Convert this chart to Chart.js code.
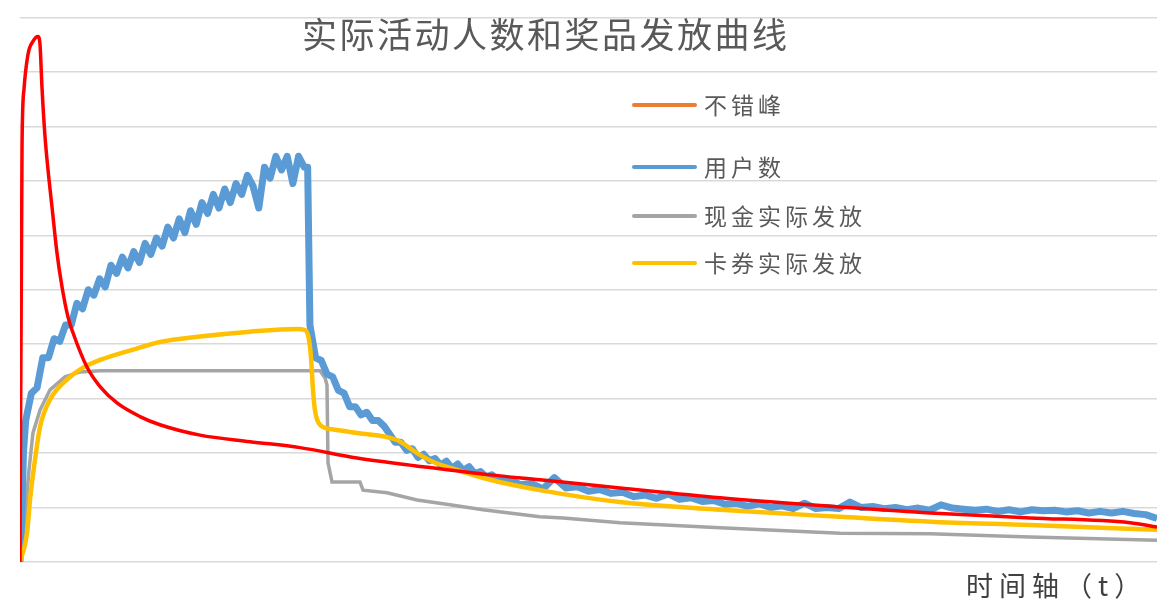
<!DOCTYPE html>
<html>
<head>
<meta charset="utf-8">
<script src="https://cdn.jsdelivr.net/npm/chart.js@4.4.1/dist/chart.umd.min.js"></script>
<style>
  body { margin: 0; background: #fff; }
</style>
</head>
<body>
<canvas id="prizeChart" width="1157" height="603"></canvas>
<script>
const chartTitle = '实际活动人数和奖品发放曲线';
const axisTitle = '时间轴（t）';
const seriesNames = ['不错峰', '用户数', '现金实际发放', '卡券实际发放'];

// 不错峰
const redT = [0, 0.18, 0.35, 0.7, 1.14, 1.58, 1.76, 1.93, 2.2, 2.46, 2.81, 3.25, 3.69, 4.22, 4.66, 5.89, 7.04, 8.53, 10.55, 12.31, 15.83, 20.23, 24.63, 29.64, 35.44, 41.34, 45.73, 52.77, 61.57, 72.12, 80.04, 88.83, 97.63, 100];
const redV = [0, 7.67, 8.68, 9.32, 9.56, 9.65, 9.5, 8.73, 7.81, 7.21, 6.53, 5.68, 5.06, 4.5, 4.21, 3.58, 3.22, 2.92, 2.67, 2.52, 2.33, 2.21, 2.1, 1.91, 1.75, 1.6, 1.51, 1.36, 1.18, 1.01, 0.9, 0.81, 0.72, 0.64];

// 用户数
const blueT = [0, 0.2, 0.3, 0.5, 1, 1.5, 2, 2.5, 3, 3.5, 4, 4.5, 5, 5.5, 6, 6.5, 7, 7.5, 8, 8.5, 9, 9.5, 10, 10.5, 11, 11.5, 12, 12.5, 13, 13.5, 14, 14.5, 15, 15.5, 16, 16.5, 17, 17.5, 18, 18.5, 19, 19.5, 20, 20.5, 21, 21.5, 22, 22.5, 23, 23.5, 24, 24.5, 25, 25.3,
  25.5, 26, 26.5, 27, 27.5, 28, 28.5, 29, 29.5, 30, 30.5, 31, 31.5, 32, 32.5, 33, 33.5, 34, 34.5, 35, 35.5, 36, 36.5, 37, 37.5, 38, 38.5, 39, 39.5, 40, 40.5, 41, 41.5, 42,
  43, 44, 45, 46, 47, 48, 49, 50, 51, 52, 53, 54, 55, 56, 57, 58, 59, 60, 61, 62, 63, 64, 65, 66, 67, 68, 69, 70, 71, 72, 73, 74, 75, 76, 77, 78, 79, 80,
  81, 82, 83, 84, 85, 86, 87, 88, 89, 90, 91, 92, 93, 94, 95, 96, 97, 98, 99, 100];
const blueV = [0, 1.1, 2.0, 2.6, 3.1, 3.2, 3.75, 3.75, 4.1, 4.05, 4.35, 4.35, 4.75, 4.65, 5.0, 4.9, 5.2, 5.05, 5.45, 5.3, 5.6, 5.4, 5.7, 5.5, 5.85, 5.65, 5.95, 5.8, 6.15, 5.95, 6.3, 6.05, 6.45, 6.2, 6.6, 6.4, 6.75, 6.5, 6.85, 6.6, 6.95, 6.75, 7.1, 6.9, 6.5, 7.25, 7.05, 7.45, 7.2, 7.45, 6.95, 7.45, 7.25, 7.25,
  4.35, 3.75, 3.7, 3.45, 3.4, 3.15, 3.1, 2.85, 2.85, 2.7, 2.75, 2.6, 2.6, 2.5, 2.35, 2.2, 2.2, 2.05, 2.08, 1.92, 1.98, 1.86, 1.9, 1.78, 1.85, 1.72, 1.8, 1.68, 1.75, 1.62, 1.66, 1.56, 1.6, 1.5,
  1.52, 1.42, 1.44, 1.34, 1.55, 1.36, 1.38, 1.3, 1.33, 1.26, 1.28, 1.2, 1.23, 1.17, 1.25, 1.15, 1.18, 1.11, 1.13, 1.06, 1.08, 1.02, 1.07, 1.0, 1.03, 0.98, 1.08, 0.98, 1.0, 0.98, 1.1, 1.0, 1.02, 0.98, 1.0, 0.96, 0.99, 0.95,
  1.05, 0.99, 0.97, 0.95, 0.97, 0.93, 0.96, 0.92, 0.96, 0.94, 0.95, 0.92, 0.94, 0.9, 0.93, 0.9, 0.93, 0.89, 0.87, 0.8];

// 现金实际发放
const grayT = [0, 0.44, 0.79, 1.14, 1.76, 2.64, 3.96, 5.28, 7.04, 26.39, 26.83, 27.0, 27.09, 27.44, 29.9, 30.17, 32.28, 34.92, 37.82, 40.72, 45.73, 47.76, 52.77, 61.57, 72.12, 80.04, 88.83, 100];
const grayV = [0, 0.77, 1.69, 2.37, 2.79, 3.16, 3.4, 3.49, 3.51, 3.51, 3.38, 3.25, 1.82, 1.47, 1.47, 1.32, 1.27, 1.14, 1.05, 0.96, 0.83, 0.81, 0.72, 0.63, 0.53, 0.52, 0.46, 0.4];

// 卡券实际发放
const yellowT = [0, 0.62, 0.88, 1.32, 1.76, 2.64, 4.13, 5.54, 7.04, 9.94, 12.31, 15.83, 20.23, 24.36, 25.07, 25.42, 25.59, 25.77, 25.94, 26.39, 27.7, 29.64, 33.16, 34.92, 36.32, 38.43, 41.34, 45.73, 52.77, 61.57, 72.12, 80.04, 88.83, 100];
const yellowV = [0, 0.53, 1.14, 1.88, 2.48, 2.98, 3.35, 3.57, 3.71, 3.9, 4.04, 4.14, 4.23, 4.28, 4.26, 4.08, 3.77, 3.16, 2.79, 2.52, 2.43, 2.37, 2.24, 2.0, 1.84, 1.69, 1.51, 1.32, 1.1, 0.96, 0.83, 0.74, 0.68, 0.59];

function toPoints(ts, vs) {
  return ts.map((t, i) => ({ x: t, y: vs[i] }));
}

const legendColors = ['#ED7D31', '#5B9BD5', '#A5A5A5', '#FFC000'];

// title, legend and axis name are placed by hand like in the picture
const decorPlugin = {
  id: 'decor',
  afterDraw(chart) {
    const ctx = chart.ctx;
    ctx.save();
    ctx.textBaseline = 'middle';
    ctx.textAlign = 'left';

    ctx.fillStyle = '#595959';
    ctx.font = '35px "Noto Sans CJK SC"';
    ctx.letterSpacing = '2.5px';
    ctx.fillText(chartTitle, 302, 35);

    const rowsY = [105, 167, 216, 263];
    ctx.font = '23px "Noto Sans CJK SC"';
    ctx.letterSpacing = '4px';
    seriesNames.forEach((name, i) => {
      ctx.strokeStyle = legendColors[i];
      ctx.lineWidth = 4;
      ctx.lineCap = 'round';
      ctx.beginPath();
      ctx.moveTo(634, rowsY[i]);
      ctx.lineTo(695, rowsY[i]);
      ctx.stroke();
      ctx.fillText(name, 704, rowsY[i]);
    });

    ctx.fillStyle = '#404040';
    ctx.font = '27px "Noto Sans CJK SC"';
    ctx.letterSpacing = '6px';
    ctx.fillText(axisTitle, 966, 586);
    ctx.restore();
  }
};

new Chart(document.getElementById('prizeChart'), {
  type: 'line',
  data: {
    datasets: [{
        label: seriesNames[0],
        data: toPoints(redT, redV),
        borderColor: '#FF0000',
        borderWidth: 3.5,
        cubicInterpolationMode: 'monotone',
        order: 0
      }, {
        label: seriesNames[1],
        data: toPoints(blueT, blueV),
        borderColor: '#5B9BD5',
        borderWidth: 7,
        borderJoinStyle: 'round',
        tension: 0,
        order: 2
      }, {
        label: seriesNames[2],
        data: toPoints(grayT, grayV),
        borderColor: '#A5A5A5',
        borderWidth: 3.5,
        tension: 0,
        order: 3
      }, {
        label: seriesNames[3],
        data: toPoints(yellowT, yellowV),
        borderColor: '#FFC000',
        borderWidth: 4.5,
        cubicInterpolationMode: 'monotone',
        order: 1
    }]
  },
  options: {
    responsive: false,
    animation: false,
    layout: {
      padding: { left: 20, right: 0, top: 0, bottom: 41 }
    },
    elements: {
      point: { radius: 0 }
    },
    plugins: {
      legend: { display: false },
      title: { display: false },
      tooltip: { enabled: false }
    },
    scales: {
      x: {
        type: 'linear',
        min: 0,
        max: 100,
        ticks: { display: false },
        grid: { display: false, drawTicks: false },
        border: { display: false }
      },
      y: {
        min: 0,
        max: 10.32,
        ticks: { display: false, stepSize: 1 },
        grid: {
          drawTicks: false,
          lineWidth: 1.5,
          color: (c) => (c.tick && Number.isInteger(c.tick.value)) ? '#D9D9D9' : 'rgba(0,0,0,0)'
        },
        border: { display: false }
      }
    }
  },
  plugins: [decorPlugin]
});
</script>
</body>
</html>
